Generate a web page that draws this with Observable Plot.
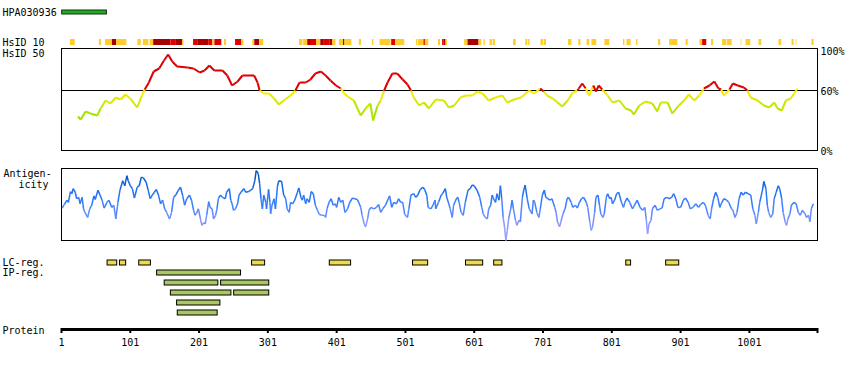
<!DOCTYPE html>
<html>
<head>
<meta charset="utf-8">
<script src="https://cdn.jsdelivr.net/npm/d3@7"></script>
<script src="https://cdn.jsdelivr.net/npm/@observablehq/plot@0.6"></script>
<style>
  html, body { margin: 0; padding: 0; background: #fff; }
  #chart { position: relative; width: 850px; height: 370px; overflow: hidden; background: #fff; }
  #chart svg { position: absolute; left: 0; }
</style>
</head>
<body>
<div id="chart"></div>
<script>
// ---------------- data ----------------
const proteinLength = 1100;
const antigenName = "HPA030936";
const antigenRange = [2, 67];

const tickLabels = [1, 101, 201, 301, 401, 501, 601, 701, 801, 901, 1001];

// HsID 10 strip: [start, end, level]  (1 = moderate, 2 = high, 3 = very high)
const hsid10Segments = [
  [14,21,1],[56,59,1],[65,75,1],[75,81,3],[81,96,1],[112,117,1],[120,128,1],[130,135,1],
  [135,160,3],[160,168,2],[168,177,3],[177,179,1],[193,199,2],[199,215,3],[215,221,2],
  [221,224,1],[224,234,2],[238,241,1],[254,263,2],[263,266,1],[279,282,1],[282,289,3],
  [289,295,1],[347,352,1],[353,359,1],[359,363,3],[363,372,2],[372,378,1],[378,382,3],
  [382,391,2],[391,395,3],[395,400,1],[405,411,1],[411,413,3],[413,423,1],[434,437,1],
  [453,455,1],[464,480,1],[481,487,2],[487,500,1],[517,519,1],[520,528,1],[528,530,2],
  [530,535,1],[549,552,1],[555,557,2],[557,560,3],[560,562,1],[587,592,1],[592,608,3],
  [608,612,1],[615,617,1],[624,628,1],[629,632,1],[658,662,1],[676,679,1],[680,682,1],
  [698,702,1],[703,706,1],[738,743,1],[753,756,1],[765,769,1],[772,779,1],[791,798,1],
  [818,820,1],[823,829,1],[837,839,1],[869,872,1],[885,897,1],[909,912,1],[929,933,1],
  [933,939,2],[946,949,1],[962,968,1],[969,976,1],[989,990,1],[996,1003,1],[1015,1019,1],
  [1044,1048,1],[1063,1066,1],[1069,1070,1],[1092,1095,1]
];

// HsID 50 identity (%)
const hsid50Res = [
  25,29,36,43,53,58,65,72,80,87,
  94,101,111,118,122,128,135,143,150,156,
  162,169,184,193,202,209,216,223,235,242,
  249,257,264,281,286,289,295,303,310,317,
  324,334,341,347,356,363,370,378,385,392,
  400,407,412,419,426,436,443,450,454,460,
  465,470,475,482,489,497,504,509,513,521,
  528,535,545,557,564,572,581,589,598,606,
  613,622,632,642,649,659,669,681,688,697,
  702,707,715,722,729,737,744,751,753,758,
  763,768,774,778,782,787,795,802,812,821,
  829,833,841,850,860,867,872,882,889,897,
  906,913,921,928,935,943,950,956,960,964,
  972,977,984,993,998,1003,1013,1022,1030,1037,
  1042,1048,1054,1061,1066,1071
];
const hsid50Val = [
  34,31,39,37,35,42,50,47,53,51,
  56,52,43,55,61,68,79,82,90,96,
  89,84,83,82,78,80,85,80,80,75,
  65,69,75,75,68,60,57,57,52,46,
  50,55,60,68,68,71,77,79,75,70,
  65,62,57,53,50,35,42,47,30,44,
  50,60,68,77,77,71,66,60,53,45,
  48,42,51,50,43,45,53,55,55,59,
  57,50,53,55,48,51,53,60,57,62,
  59,55,52,48,44,50,58,60,62,67,
  62,55,65,59,65,61,55,48,50,42,
  40,36,45,49,47,39,48,48,37,44,
  50,56,50,55,62,65,69,62,61,55,
  61,67,65,63,60,53,50,45,43,48,
  42,40,50,52,57,62
];

// Antigenicity (relative score 0-100)
const antigenRes = [
  2,5,9,11,14,16,18,21,23,26,28,31,33,35,39,42,45,48,50,54,
  57,60,63,67,70,74,77,80,83,86,90,93,96,98,101,104,107,111,114,117,
  120,124,127,130,133,136,139,142,145,148,151,154,158,161,164,167,171,174,177,180,
  183,187,190,193,195,198,200,203,205,208,210,212,215,217,220,222,225,227,229,232,
  235,239,241,245,247,249,251,254,257,259,262,266,269,273,276,279,282,284,287,289,
  291,293,295,298,299,302,304,305,307,310,312,315,317,321,324,327,329,332,334,337,
  340,344,346,349,351,353,356,358,361,364,367,370,373,376,379,383,385,387,390,393,
  396,399,401,404,407,410,413,417,420,424,427,431,433,436,438,441,443,446,448,451,
  455,459,462,465,468,472,476,478,481,484,488,491,494,497,500,504,506,509,513,516,
  519,522,526,529,532,534,538,541,544,545,549,553,555,559,561,564,566,569,571,575,
  577,579,582,585,588,592,595,598,601,605,609,612,614,617,620,622,625,627,629,632,
  634,637,639,641,643,645,647,649,651,654,656,658,661,663,666,668,671,673,675,678,
  681,685,687,689,692,695,697,700,703,705,708,711,714,718,720,722,725,727,730,733,
  736,738,742,744,748,751,754,757,760,764,766,769,771,773,776,778,781,783,785,788,
  790,793,795,798,800,802,805,808,811,815,818,820,823,827,831,834,838,842,846,849,
  851,853,855,858,860,864,867,871,874,877,881,884,888,891,894,897,901,905,908,912,
  915,919,923,927,930,934,937,941,944,946,949,952,955,958,961,964,968,971,975,977,
  980,983,986,989,992,995,999,1003,1006,1009,1011,1014,1016,1020,1022,1025,1027,1029,1032,1035,
  1037,1040,1043,1045,1048,1050,1053,1055,1057,1060,1062,1066,1069,1072,1075,1078,1082,1084,1087,1089,
  1091,1094
];
const antigenVal = [
  45,50,56,53,68,65,72,67,58,60,51,60,44,39,32,44,49,62,57,70,
  63,56,45,53,56,46,49,30,53,70,83,76,90,83,76,72,59,74,76,88,
  87,81,70,58,63,67,71,63,51,56,44,39,30,39,60,63,70,74,63,49,
  58,63,56,42,35,39,44,30,21,25,23,35,54,46,44,30,35,44,58,63,
  60,58,67,72,56,51,42,44,51,63,67,72,67,68,70,72,83,97,93,79,
  58,44,63,53,44,71,53,37,49,58,44,76,83,82,63,58,44,39,53,51,
  56,67,73,60,56,63,51,58,53,68,65,49,42,36,35,35,32,44,53,58,
  49,51,46,60,53,56,39,44,53,59,58,57,53,46,35,23,19,30,42,46,
  44,46,50,39,44,49,58,62,46,53,51,58,53,53,36,32,44,63,65,60,
  63,70,74,71,63,46,44,49,56,44,53,63,65,72,60,51,44,32,49,58,
  60,53,39,35,53,70,72,77,76,70,60,46,37,32,30,44,49,63,58,53,
  65,56,76,58,32,19,0,14,30,44,56,44,28,21,28,26,60,70,77,58,
  44,37,56,53,39,32,44,63,70,60,58,56,58,46,39,26,19,26,37,44,
  58,60,53,46,49,45,53,58,60,53,46,26,14,19,39,60,63,49,37,32,
  37,60,65,58,60,51,56,65,67,53,46,53,59,53,44,49,56,46,42,46,
  30,9,23,28,44,49,42,44,45,58,60,58,60,65,58,46,46,56,59,53,
  44,46,51,46,50,53,49,35,30,44,58,67,60,46,53,58,56,53,44,42,
  32,39,58,67,63,67,65,63,44,35,23,39,53,70,82,72,49,39,32,37,
  58,67,76,72,58,39,26,21,30,37,49,53,51,39,35,42,37,32,35,26,
  44,51
];

// Regions
const lcRegions = [[68,82],[86,95],[114,131],[278,297],[391,422],[512,534],[589,614],[630,642],[822,829],[880,899]];
const ipRegions = [[140,262],[151,229],[233,303],[160,248],[252,303],[169,232],[170,228]];

// ---------------- helpers ----------------
const chart = document.getElementById("chart");
const font = '"DejaVu Sans Mono", "Liberation Mono", monospace';
const common = {
  width: 850,
  marginLeft: 61,
  marginRight: 33,
  x: {domain: [1, proteinLength], axis: null},
  style: {fontFamily: font, fontSize: "10px", background: "transparent", color: "black", overflow: "visible"}
};
function place(svg, top) {
  svg.style.position = "absolute";
  svg.style.left = "0px";
  svg.style.top = top + "px";
  chart.appendChild(svg);
}
const labelOpts = {frameAnchor: "left", dx: -59, textAnchor: "start", lineAnchor: "middle", fill: "black"};

// ---------------- panel: antigen bar ----------------
place(Plot.plot({
  ...common, height: 22, marginTop: 10, marginBottom: 8,
  marks: [
    Plot.rect([antigenRange], {x1: d => d[0], x2: d => d[1], fill: "#22aa22", stroke: "#113311", strokeWidth: 1}),
    Plot.text([antigenName], {...labelOpts, text: d => d})
  ]
}), 0);

// ---------------- panel: HsID 10 strip ----------------
place(Plot.plot({
  ...common, height: 16, marginTop: 9, marginBottom: 1,
  color: {domain: [1, 2, 3], range: ["#ffcc2a", "#e00000", "#a80000"]},
  marks: [
    Plot.rect(hsid10Segments, {x1: d => d[0], x2: d => d[1], fill: d => d[2]}),
    Plot.text(["HsID 10"], {...labelOpts, text: d => d})
  ]
}), 30);

// ---------------- panel: HsID 50 ----------------
const hsSegs = d3.pairs(d3.range(hsid50Res.length)).map(([i, j]) => ({
  r1: hsid50Res[i], v1: hsid50Val[i], r2: hsid50Res[j], v2: hsid50Val[j], v: (hsid50Val[i] + hsid50Val[j]) / 2
}));
const lowColor = d3.interpolateRgb("#8ee000", "#ffee00");
function hsColor(v) {
  if (v > 60) return "#dd0000";
  return lowColor((Math.max(30, Math.min(60, v)) - 30) / 30);
}
place(Plot.plot({
  ...common, height: 120, marginTop: 8, marginBottom: 10,
  y: {domain: [0, 102], axis: null},
  color: {type: "identity"},
  marks: [
    Plot.frame({stroke: "black", strokeWidth: 1}),
    Plot.ruleY([60], {stroke: "black", strokeWidth: 1}),
    Plot.link(hsSegs, {x1: "r1", y1: "v1", x2: "r2", y2: "v2", stroke: d => hsColor(d.v), strokeWidth: 2}),
    Plot.text([100, 60, 0], {y: d => d, text: d => d + "%", frameAnchor: "right", dx: 3, dy: 1, textAnchor: "start", lineAnchor: "middle", fill: "black"}),
    Plot.text(["HsID 50"], {...labelOpts, frameAnchor: "top-left", dy: 5, text: d => d})
  ]
}), 40);

// ---------------- panel: Antigenicity ----------------
const agSegs = d3.pairs(d3.range(antigenRes.length)).map(([i, j]) => ({
  r1: antigenRes[i], v1: antigenVal[i], r2: antigenRes[j], v2: antigenVal[j], v: (antigenVal[i] + antigenVal[j]) / 2
}));
const agColor = d3.scaleLinear().domain([0, 25, 50, 75, 100]).range(["#a8a0ff", "#8896ff", "#3a80ff", "#1468ee", "#0048a8"]).clamp(true);
place(Plot.plot({
  ...common, height: 90, marginTop: 8, marginBottom: 10,
  y: {domain: [0, 100], axis: null},
  color: {type: "identity"},
  marks: [
    Plot.frame({stroke: "black", strokeWidth: 1}),
    Plot.link(agSegs, {x1: "r1", y1: "v1", x2: "r2", y2: "v2", stroke: d => agColor(d.v), strokeWidth: 1.5}),
    Plot.text(["Antigen-"], {...labelOpts, frameAnchor: "top-left", dx: -58, dy: 5, text: d => d}),
    Plot.text(["icity"], {...labelOpts, frameAnchor: "top-left", dx: -43, dy: 16, text: d => d})
  ]
}), 160);

// ---------------- panel: LC / IP regions ----------------
const laneEnds = [];
const ipData = ipRegions.map(([s, e]) => {
  let lane = laneEnds.findIndex(end => end < s);
  if (lane < 0) { lane = laneEnds.length; laneEnds.push(e); } else laneEnds[lane] = e;
  return {s, e, row: lane + 1};
});
const lcData = lcRegions.map(([s, e]) => ({s, e, row: 0}));
place(Plot.plot({
  ...common, height: 70, marginTop: 7.5, marginBottom: 2.5,
  y: {type: "band", domain: d3.range(6), paddingInner: 0.5, paddingOuter: 0.25, axis: null},
  marks: [
    Plot.barX(lcData, {x1: "s", x2: "e", y: "row", fill: "#efda48", stroke: "black", strokeWidth: 1}),
    Plot.barX(ipData, {x1: "s", x2: "e", y: "row", fill: "#a9c862", stroke: "black", strokeWidth: 1}),
    Plot.text([{row: 0, label: "LC-reg."}, {row: 1, label: "IP-reg."}], {...labelOpts, y: "row", text: "label"})
  ]
}), 250);

// ---------------- panel: protein axis ----------------
place(Plot.plot({
  ...common, height: 50, marginTop: 8, marginBottom: 37,
  marks: [
    Plot.rect([[1, proteinLength]], {x1: d => d[0], x2: d => d[1], insetBottom: 2, fill: "black"}),
    Plot.ruleX([...tickLabels, proteinLength], {stroke: "black", strokeWidth: 2}),
    Plot.text(tickLabels, {x: d => d, text: d => String(d), frameAnchor: "bottom", dy: 9, lineAnchor: "middle", fill: "black"}),
    Plot.text(["Protein"], {...labelOpts, text: d => d})
  ]
}), 320);
</script>
</body>
</html>
